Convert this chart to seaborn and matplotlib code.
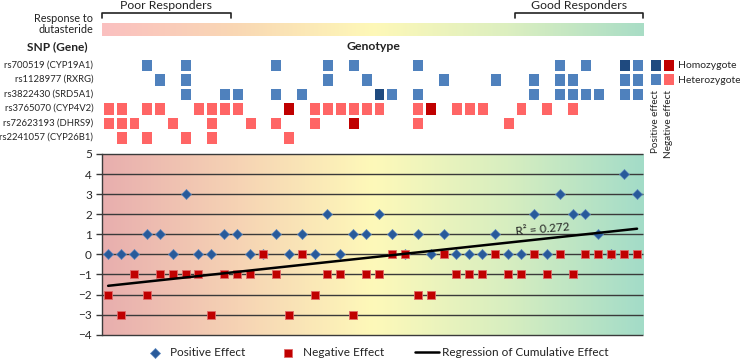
import numpy as np
import pandas as pd
import seaborn as sns
import matplotlib.pyplot as plt
from matplotlib.colors import ListedColormap, LinearSegmentedColormap
from matplotlib.lines import Line2D

# DATA
# ///////////////////////////////////////////////////////////////
n_cols = 42
snp_labels = ["rs700519 (CYP19A1)", "rs1128977 (RXRG)", "rs3822430 (SRD5A1)",
              "rs3765070 (CYP4V2)", "rs72623193 (DHRS9)", "rs2241057 (CYP26B1)"]
snp_effect = ["pos", "pos", "pos", "neg", "neg", "neg"]

# column index -> 1 heterozygote, 2 homozygote
rs700519 = {3: 1, 6: 1, 13: 1, 17: 1, 19: 1, 24: 1, 35: 1, 37: 1, 40: 2, 41: 1}
rs1128977 = {4: 1, 6: 1, 17: 1, 20: 1, 26: 1, 30: 1, 33: 1, 35: 1, 36: 1, 40: 1, 41: 1}
rs3822430 = {6: 1, 9: 1, 10: 1, 13: 1, 15: 1, 21: 2, 22: 1, 24: 1, 33: 1, 35: 1,
             36: 1, 37: 1, 38: 1, 40: 1, 41: 1}
rs3765070 = {0: 1, 1: 1, 3: 1, 4: 1, 7: 1, 8: 1, 9: 1, 10: 1, 14: 2, 16: 1, 17: 1,
             18: 1, 19: 1, 20: 1, 21: 1, 24: 1, 25: 2, 27: 1, 28: 1, 29: 1, 32: 1,
             34: 1, 36: 1}
rs72623193 = {0: 1, 1: 1, 2: 1, 5: 1, 8: 1, 11: 1, 13: 1, 16: 1, 19: 2, 24: 1, 31: 1}
rs2241057 = {1: 1, 3: 1, 6: 1, 8: 1, 14: 1}
genotypes = [rs700519, rs1128977, rs3822430, rs3765070, rs72623193, rs2241057]

positive_effect = [0, 0, 0, 1, 1, 0, 3, 0, 0, 1, 1, 0, 0, 1, 0, 1, 0, 2, 0, 1, 1,
                   2, 1, 0, 1, 0, 1, 0, 0, 0, 1, 0, 0, 2, 0, 3, 2, 2, 1, 0, 4, 3]
negative_effect = [-2, -3, -1, -2, -1, -1, -1, -1, -3, -1, -1, -1, 0, -1, -3, 0, -2, -1, -1, -3, -1,
                   -1, 0, 0, -2, -2, 0, -1, -1, -1, 0, -1, -1, 0, -1, 0, -1, 0, 0, 0, 0, 0]

poor_cols = (0, 9)
good_cols = (32, 41)
yticks = list(range(-4, 6))

# STYLE
# ///////////////////////////////////////////////////////////////
sns.set_style("white")
plt.rcParams['font.family'] = ['Lato', 'DejaVu Sans']
plt.rcParams['text.color'] = '#222222'

W, H = 740, 360
fig = plt.figure(figsize=(W / 100, H / 100), dpi=100)


def box(left, top, width, height):
    # pixel box (from top-left) -> figure fraction
    return [left / W, 1 - (top + height) / H, width / W, height / H]


x0, xw = 101.7, 541.8

# RESPONSE BAR
# ///////////////////////////////////////////////////////////////
bar_cmap = LinearSegmentedColormap.from_list(
    "bar", [(0, "#FBC0C0"), (0.25, "#F9D8B4"), (0.5, "#FEF8B8"), (0.75, "#DCEFC0"), (1, "#A9DDC6")])
ax_bar = fig.add_axes(box(x0, 23, xw, 13))
ax_bar.imshow(np.linspace(0, 1, 256)[None, :], cmap=bar_cmap, aspect="auto",
              extent=(-0.5, n_cols - 0.5, 0, 1))
ax_bar.set_xlim(-0.5, n_cols - 0.5)
ax_bar.set_ylim(0, 1)
ax_bar.axis("off")

trans = ax_bar.get_xaxis_transform()
for (c0, c1), name in [(poor_cols, "Poor Responders"), (good_cols, "Good Responders")]:
    xs = [c0 - 0.5, c0 - 0.5, c1 + 0.5, c1 + 0.5]
    ys = [1.35, 1.77, 1.77, 1.35]
    ax_bar.add_line(Line2D(xs, ys, transform=trans, color="#222222", lw=1.2, clip_on=False))
    ax_bar.text((c0 + c1) / 2, 2.35, name, transform=trans, ha="center", va="center",
                fontsize=8.8, clip_on=False)

fig.text(93 / W, 1 - 24 / H, "Response to\ndutasteride", ha="right", va="center",
         fontsize=7.8, linespacing=1.05)
fig.text(88 / W, 1 - 47 / H, "SNP (Gene)", ha="right", va="center", fontsize=8.6, fontweight="bold")
fig.text(373 / W, 1 - 47 / H, "Genotype", ha="center", va="center", fontsize=8.8, fontweight="bold")

# GENOTYPE HEATMAP
# ///////////////////////////////////////////////////////////////
hm_colors = ["#FFFFFF", "#4F81BD", "#1F4A7F", "#FF6565", "#C00000"]
hm_cmap = ListedColormap(hm_colors)

mat = np.zeros((len(snp_labels), n_cols))
for r, (g, eff) in enumerate(zip(genotypes, snp_effect)):
    for c, v in g.items():
        mat[r, c] = v + (2 if eff == "neg" else 0)
mat_df = pd.DataFrame(mat, index=snp_labels)

ax_hm = fig.add_axes(box(x0, 57.7, xw, 87))
sns.heatmap(mat_df, ax=ax_hm, cmap=hm_cmap, vmin=-0.5, vmax=4.5, cbar=False,
            mask=(mat_df == 0), linewidths=0.8, linecolor="white",
            xticklabels=False, yticklabels=True)
ax_hm.tick_params(axis="y", length=0, pad=6, labelsize=6.8)
plt.setp(ax_hm.get_yticklabels(), rotation=0)

# legend grid
leg_df = pd.DataFrame([[2, 4], [1, 3]], index=["Homozygote", "Heterozygote"],
                      columns=["Positive effect", "Negative effect"])
ax_lg = fig.add_axes(box(649.3, 57.7, 26, 28.6))
sns.heatmap(leg_df, ax=ax_lg, cmap=hm_cmap, vmin=-0.5, vmax=4.5, cbar=False,
            linewidths=0.8, linecolor="white", xticklabels=True, yticklabels=True)
ax_lg.yaxis.tick_right()
ax_lg.tick_params(axis="y", length=0, pad=2, labelsize=7.5)
ax_lg.tick_params(axis="x", length=0, pad=3, labelsize=7.2)
plt.setp(ax_lg.get_yticklabels(), rotation=0)
plt.setp(ax_lg.get_xticklabels(), rotation=90, va="top")

# EFFECT SCATTER
# ///////////////////////////////////////////////////////////////
cols = np.arange(n_cols)
cumulative = np.array(positive_effect) + np.array(negative_effect)

ax = fig.add_axes(box(x0, 154, xw, 180.7))
bg_cmap = LinearSegmentedColormap.from_list(
    "bg", [(0, "#E8AEAE"), (0.25, "#F6D3B4"), (0.5, "#FEF9B9"), (0.75, "#D7EEC0"), (1, "#A3DCC8")])
ax.imshow(np.linspace(0, 1, 256)[None, :], cmap=bg_cmap, aspect="auto",
          extent=(-0.5, n_cols - 0.5, -4, 5), zorder=0)
ax.hlines(yticks, -0.5, n_cols - 0.5, color="#3A3A3A", lw=1.0, zorder=1, clip_on=False)

sns.scatterplot(x=cols, y=positive_effect, ax=ax, marker="D", s=26, color="#285A9A",
                edgecolor="#5B86BE", linewidth=0.5, zorder=3, label="Positive Effect")
sns.scatterplot(x=cols, y=negative_effect, ax=ax, marker="s", s=34, color="#C00000",
                edgecolor="#E06A6A", linewidth=0.6, zorder=4, label="Negative Effect")
sns.regplot(x=cols, y=cumulative, ax=ax, scatter=False, ci=None, truncate=True,
            color="black", line_kws={"lw": 1.8, "zorder": 5})

r2 = np.corrcoef(cols, cumulative)[0, 1] ** 2
ax.text(33.7, 1.25, f"R² = {r2:.3f}", ha="center", va="center", fontsize=8.5,
        rotation=5, zorder=6)

ax.set_xlim(-0.5, n_cols - 0.5)
ax.set_ylim(-4, 5)
ax.set_yticks(yticks)
ax.set_xticks([])
ax.set_xlabel("")
for s in ["top", "right", "bottom"]:
    ax.spines[s].set_visible(False)
ax.spines["left"].set_color("#3A3A3A")
ax.spines["left"].set_linewidth(1.0)
ax.tick_params(axis="y", direction="out", length=4, width=1.0, color="#3A3A3A",
               labelsize=8.5, pad=3, left=True)

handles, labels = ax.get_legend_handles_labels()
handles = handles[:2] + [Line2D([], [], color="black", lw=1.8)]
labels = labels[:2] + ["Regression of Cumulative Effect"]
ax.legend(handles, labels, loc="center", bbox_to_anchor=(0.506, -0.1), ncol=3,
          frameon=False, fontsize=8.5, handlelength=2.0, columnspacing=2.6,
          handletextpad=0.3, borderaxespad=0)

fig.savefig("out.png", dpi=100)
